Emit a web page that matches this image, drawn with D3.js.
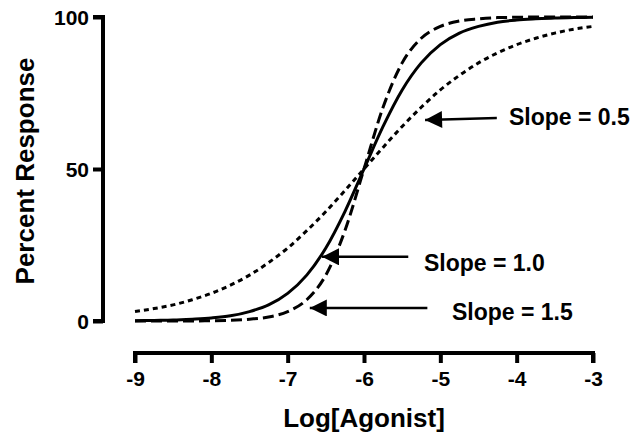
<!DOCTYPE html>
<html>
<head>
<meta charset="utf-8">
<script src="https://cdn.jsdelivr.net/npm/d3@7/dist/d3.min.js"></script>
<style>
  html, body { margin: 0; padding: 0; background: #fff; }
  svg text { font-family: "Liberation Sans", Arial, Helvetica, sans-serif; font-weight: bold; fill: #000; }
</style>
</head>
<body>
<svg id="chart" width="638" height="435"></svg>
<script>
// Log[Agonist] values where the curves were read
const logAgonist = [-9, -8.75, -8.5, -8.25, -8, -7.75, -7.5, -7.25, -7, -6.75, -6.5, -6.25, -6,
                    -5.75, -5.5, -5.25, -5, -4.75, -4.5, -4.25, -4, -3.75, -3.5, -3.25, -3];
// Percent response for each slope
const slope05 = [3.1, 4.1, 5.3, 7.0, 9.1, 11.8, 15.1, 19.2, 24.0, 29.7, 36.0, 42.9, 50,
                 57.1, 64.0, 70.3, 76.0, 80.8, 84.9, 88.2, 90.9, 93.0, 94.7, 96.0, 96.9];
const slope10 = [0.1, 0.2, 0.3, 0.6, 1.0, 1.7, 3.1, 5.3, 9.1, 15.1, 24.0, 36.0, 50,
                 64.0, 76.0, 84.9, 90.9, 94.7, 96.9, 98.3, 99.0, 99.4, 99.7, 99.8, 99.9];
const slope15 = [0.0, 0.0, 0.0, 0.0, 0.1, 0.2, 0.6, 1.3, 3.1, 7.0, 15.1, 29.7, 50,
                 70.3, 84.9, 93.0, 96.9, 98.7, 99.4, 99.8, 99.9, 100, 100, 100, 100];
const xTicks = [-9, -8, -7, -6, -5, -4, -3];
const yTicks = [0, 50, 100];
const seriesNames = ["Slope = 0.5", "Slope = 1.0", "Slope = 1.5"];
// annotation arrows: [tailX, tailY, tipX, tipY] in data units
const arrows = [
  [-4.26, 66.8, -5.20, 66.1],
  [-5.42, 21.1, -6.55, 21.1],
  [-5.17, 4.3, -6.71, 4.3]
];

const svg = d3.select("#chart");
const x = d3.scaleLinear().domain([-9, -3]).range([135, 593]);
const y = d3.scaleLinear().domain([0, 100]).range([321, 17]);

// Y axis
const yAxis = d3.axisLeft(y).tickValues(yTicks).tickSize(10).tickPadding(4).tickFormat(d3.format("d"));
const gy = svg.append("g").attr("transform", "translate(103,0)").call(yAxis);
gy.select(".domain").attr("d", `M-10,${y(100)}H0V${y(0)}H-10`).attr("stroke", "#000").attr("stroke-width", 4).attr("fill", "none");
gy.selectAll(".tick line").attr("stroke", "#000").attr("stroke-width", 4);
gy.selectAll(".tick text").style("font-size", "21px").attr("dy", "0.36em");

// X axis
const xAxis = d3.axisBottom(x).tickValues(xTicks).tickSize(10).tickPadding(8).tickFormat(d3.format("d"));
const gx = svg.append("g").attr("transform", "translate(0,353)").call(xAxis);
gx.select(".domain").attr("d", `M${x(-9)},10V0H${x(-3)}V10`).attr("stroke", "#000").attr("stroke-width", 4).attr("fill", "none");
gx.selectAll(".tick line").attr("stroke", "#000").attr("stroke-width", 4);
gx.selectAll(".tick text").style("font-size", "21px");
gx.selectAll("text").text(d => d3.format("d")(d).replace("−", "-"));
gy.selectAll("text").text(d => d3.format("d")(d));

// Axis titles
svg.append("text").attr("x", 364).attr("y", 427).attr("text-anchor", "middle")
  .style("font-size", "26px").text("Log[Agonist]");
svg.append("text").attr("transform", "translate(34,171) rotate(-90)").attr("text-anchor", "middle")
  .style("font-size", "26px").text("Percent Response");

// Curves
const line = d3.line().x((d, i) => x(logAgonist[i])).y(d => y(d)).curve(d3.curveMonotoneX);
const styles = [
  { data: slope05, dash: "5,4" },
  { data: slope10, dash: null },
  { data: slope15, dash: "11,5" }
];
styles.forEach(s => {
  svg.append("path").datum(s.data).attr("d", line)
    .attr("fill", "none").attr("stroke", "#000").attr("stroke-width", 3)
    .attr("stroke-dasharray", s.dash);
});

// Arrows
svg.append("defs").append("marker").attr("id", "ah").attr("viewBox", "0 0 10 10")
  .attr("refX", 10).attr("refY", 5).attr("markerWidth", 8.5).attr("markerHeight", 6.8)
  .attr("markerUnits", "strokeWidth").attr("orient", "auto")
  .append("path").attr("d", "M0,0L10,5L0,10Z").attr("fill", "#000");
arrows.forEach(a => {
  svg.append("line").attr("x1", x(a[0])).attr("y1", y(a[1])).attr("x2", x(a[2])).attr("y2", y(a[3]))
    .attr("stroke", "#000").attr("stroke-width", 2.5).attr("marker-end", "url(#ah)");
});

// Labels
const labelPos = [[509, 125], [424, 271], [452, 320]];
seriesNames.forEach((n, i) => {
  svg.append("text").attr("x", labelPos[i][0]).attr("y", labelPos[i][1])
    .style("font-size", "23px").text(n);
});
</script>
</body>
</html>
